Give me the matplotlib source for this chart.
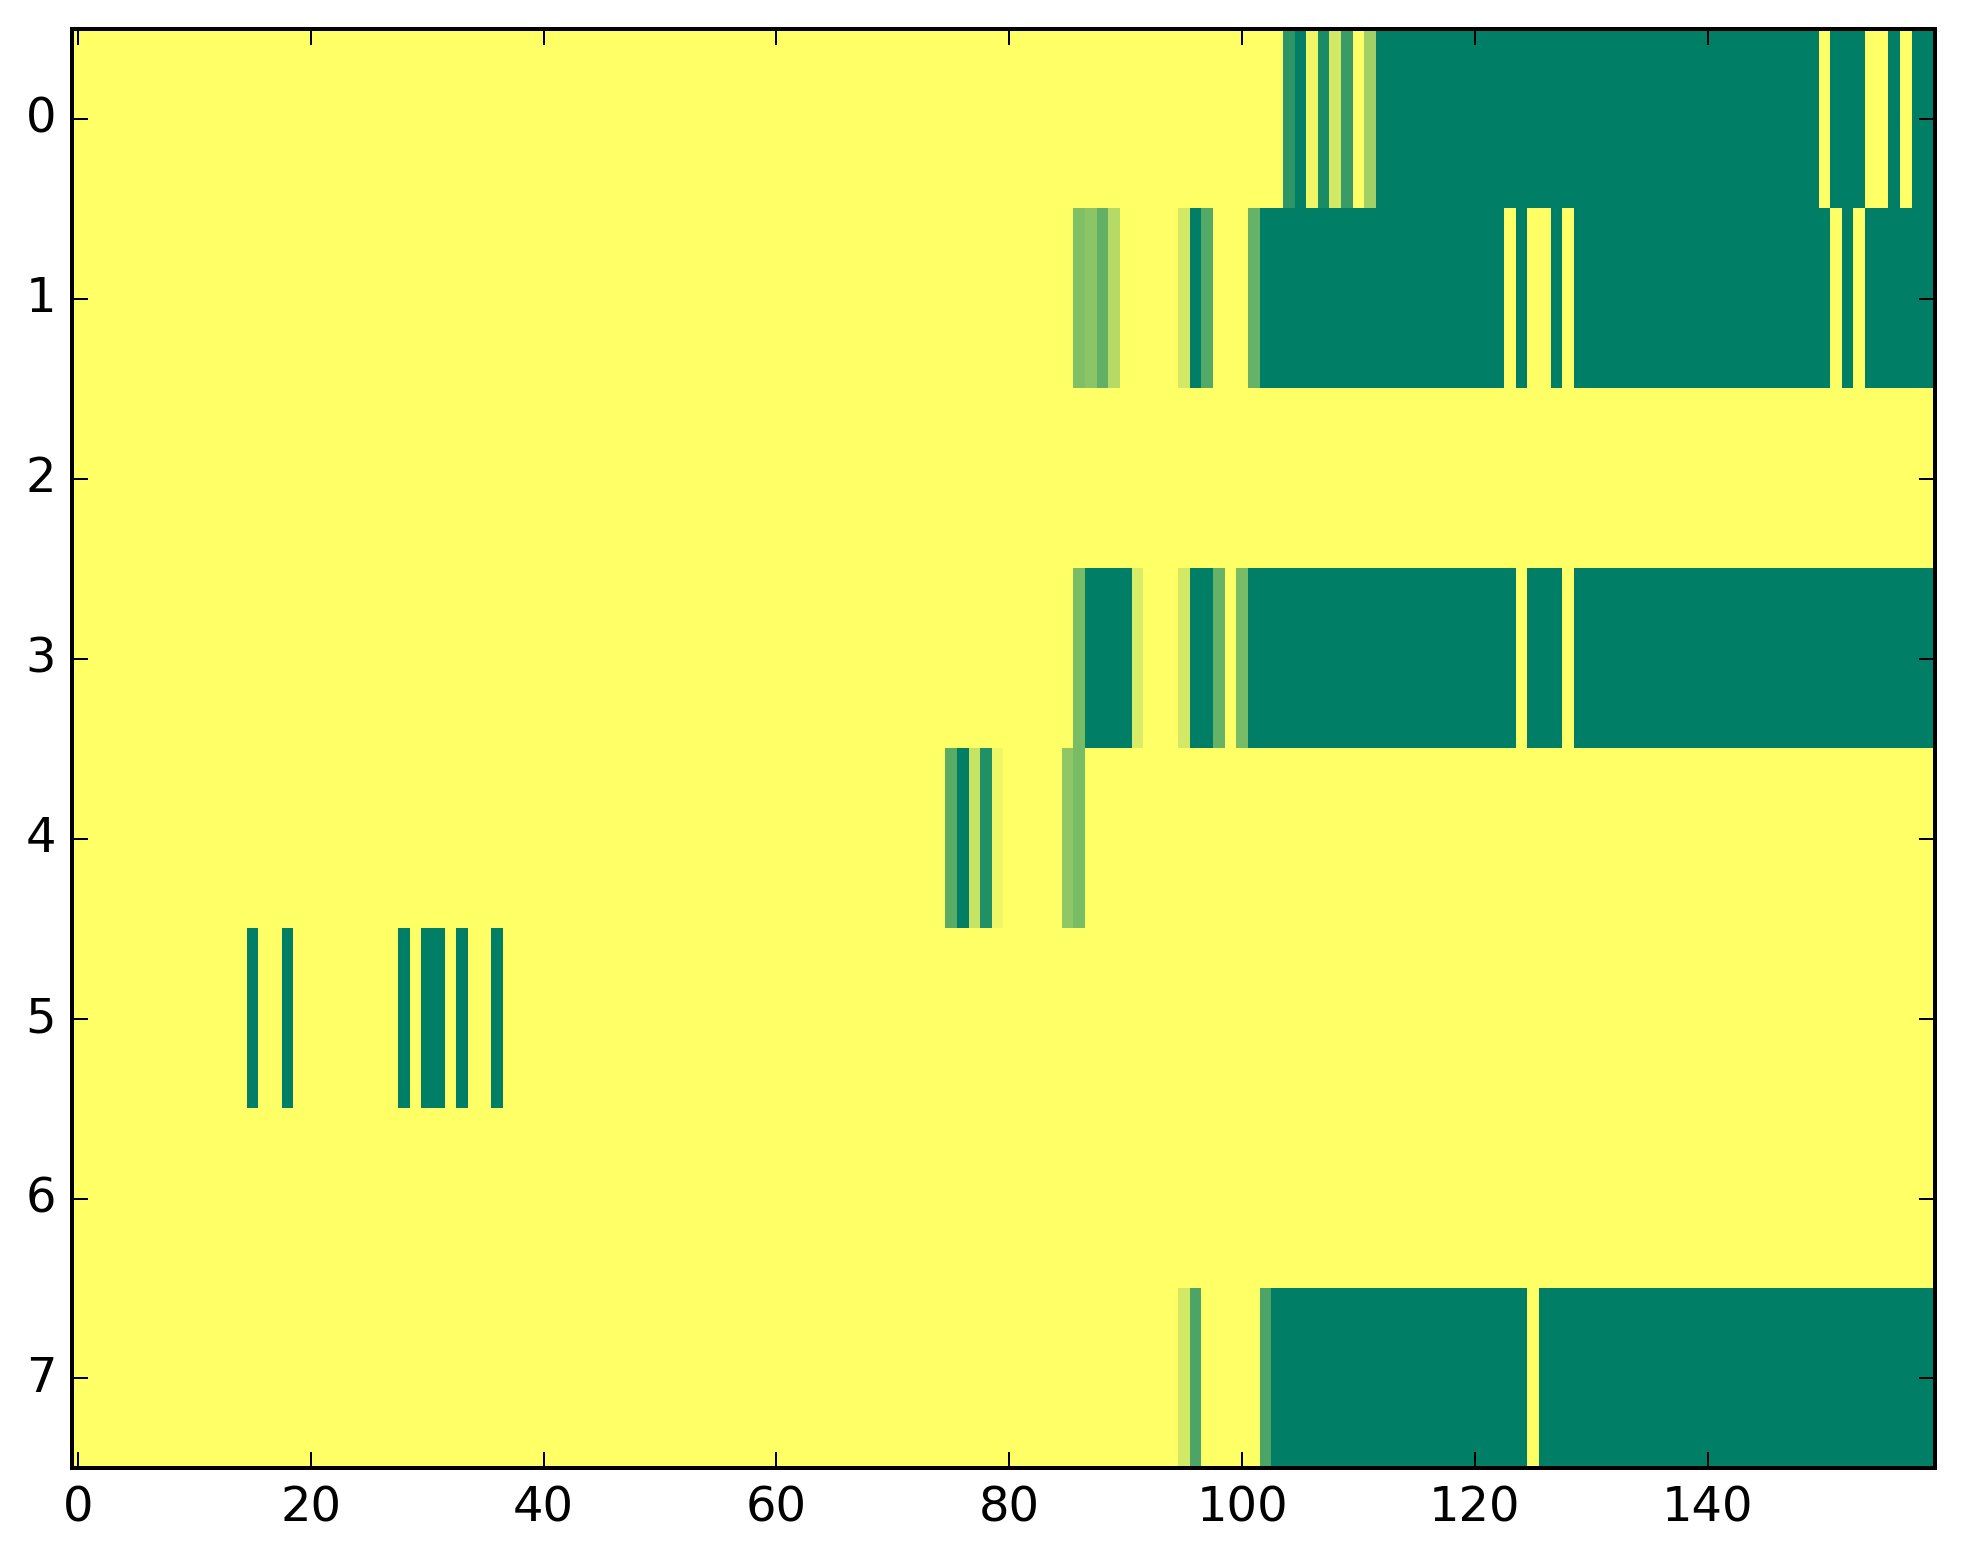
import matplotlib
matplotlib.use("Agg")
import matplotlib.pyplot as plt
import numpy as np

# old matplotlib look: ticks inside on every side, black frame
plt.style.use("classic")

n_rows = 8
n_cols = 160

# each row is a list of (first column, last column, value) runs, everything else is 0
# values (0 = yellow, 1 = dark green)
row0 = [(104, 104, 0.82), (105, 105, 1.0), (106, 106, 0.06), (107, 107, 0.9),
        (108, 108, 0.17), (109, 109, 0.77), (111, 111, 0.37), (112, 149, 1.0),
        (151, 153, 1.0), (156, 156, 1.0), (158, 159, 1.0)]
row1 = [(86, 86, 0.5), (87, 87, 0.45), (88, 88, 0.62), (89, 89, 0.29),
        (95, 95, 0.17), (96, 96, 1.0), (97, 97, 0.67), (101, 101, 0.6),
        (102, 122, 1.0), (124, 124, 1.0), (127, 127, 1.0), (129, 150, 1.0),
        (152, 152, 1.0), (154, 159, 1.0)]
row2 = []
row3 = [(86, 86, 0.52), (87, 90, 1.0), (91, 91, 0.15), (95, 95, 0.17),
        (96, 97, 1.0), (98, 98, 0.6), (100, 100, 0.52), (101, 123, 1.0),
        (125, 127, 1.0), (129, 159, 1.0)]
row4 = [(75, 75, 0.65), (76, 76, 1.0), (77, 77, 0.22), (78, 78, 0.87),
        (79, 79, 0.06), (85, 85, 0.44), (86, 86, 0.52)]
row5 = [(15, 15, 1.0), (18, 18, 1.0), (28, 28, 1.0), (30, 31, 1.0),
        (33, 33, 1.0), (36, 36, 1.0)]
row6 = []
row7 = [(95, 95, 0.17), (96, 96, 0.7), (102, 102, 0.7), (103, 124, 1.0),
        (126, 159, 1.0)]

rows = [row0, row1, row2, row3, row4, row5, row6, row7]

# fill the grid from the runs
grid = np.zeros((n_rows, n_cols))
for r, runs in enumerate(rows):
    for start, end, val in runs:
        grid[r, start:end + 1] = val

fig = plt.figure(figsize=(1963 / 288, 1564 / 288), dpi=288, facecolor="white")
ax = fig.add_axes([0.0368, 0.0611, 0.9488, 0.9204])

ax.imshow(grid, cmap="summer_r", vmin=0, vmax=1, aspect="auto",
          interpolation="nearest")

ax.set_xticks(np.arange(0, 141, 20))
ax.set_yticks(np.arange(n_rows))
ax.set_xlim(-0.5, n_cols - 0.5)
ax.set_ylim(n_rows - 0.5, -0.5)

fig.savefig("out.png", dpi=288, facecolor="white")
